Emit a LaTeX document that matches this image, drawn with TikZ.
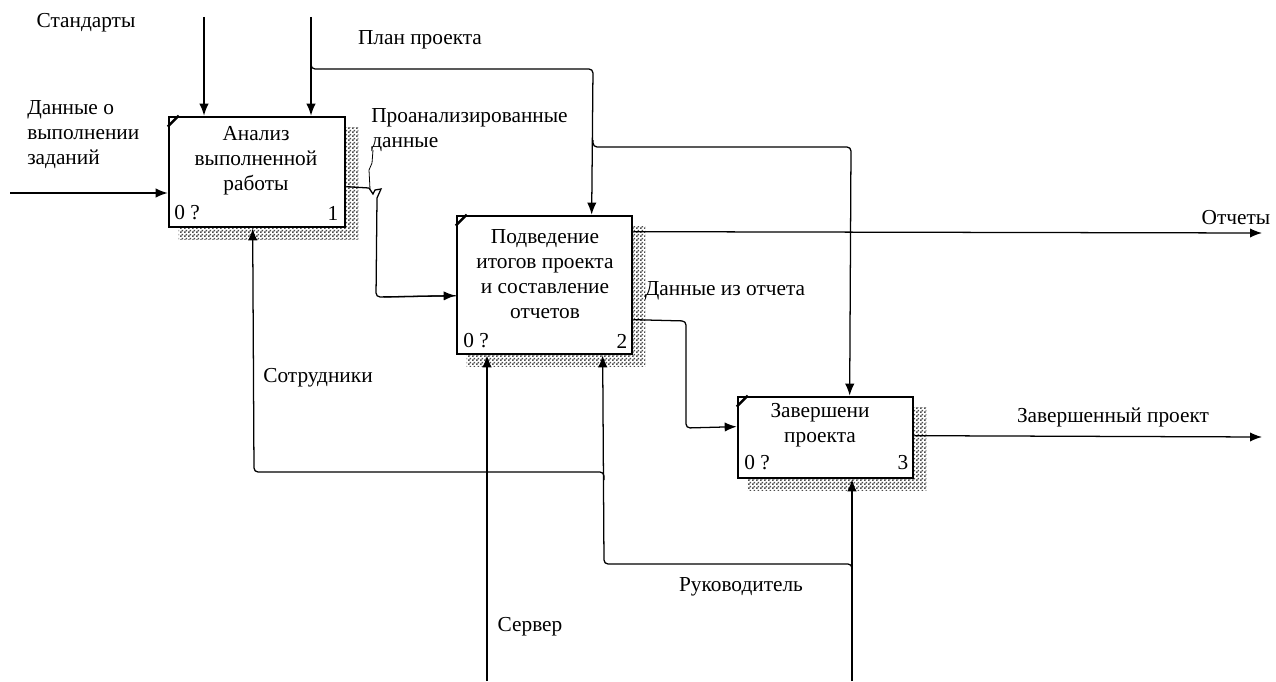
\documentclass[tikz,border=0pt]{standalone}
\usepackage{fontspec}
\setmainfont{Liberation Serif}
\usetikzlibrary{arrows.meta,calc,patterns,backgrounds}

% checkerboard used for the drop shadows of the function boxes
\pgfdeclarepatternformonly{finecheck}{\pgfpointorigin}{\pgfqpoint{3pt}{3pt}}{\pgfqpoint{3pt}{3pt}}{%
  \pgfpathrectangle{\pgfpointorigin}{\pgfqpoint{1.5pt}{1.5pt}}%
  \pgfpathrectangle{\pgfqpoint{1.5pt}{1.5pt}}{\pgfqpoint{1.5pt}{1.5pt}}%
  \pgfusepath{fill}}

\begin{document}
\begin{tikzpicture}[x=0.75pt,y=-0.75pt,
  font=\fontsize{16}{18.75}\selectfont,
  func/.style={draw,line width=2pt,fill=white,inner sep=0pt},
  arr/.style={line width=0.95pt,-{Latex[length=9pt,width=7pt]}},
  wire/.style={line width=0.95pt},
  rc/.style={rounded corners=3pt},
  lbl/.style={inner sep=0pt,align=center},
  lblL/.style={inner sep=0pt,align=left},
  shade/.style={pattern=finecheck,pattern color=black!70}]

\useasboundingbox (0,0) rectangle (1276,681);

% function boxes
\node[func,minimum width=132pt,minimum height=82.5pt]   (b1) at (257,172) {};
\node[func,minimum width=131.25pt,minimum height=103.5pt] (b2) at (544.5,285) {};
\node[func,minimum width=131.25pt,minimum height=60.75pt] (b3) at (825.5,437.5) {};

% drop shadows
\begin{scope}[on background layer]
  \foreach \b in {b1,b2,b3}
    \fill[shade] ($(\b.north west)+(11,12)$) rectangle ($(\b.south east)+(12,11)$);
\end{scope}

% corner ticks
\foreach \b in {b1,b2,b3}
  \draw[line width=1.8pt] ($(\b.north west)+(0,11)$) -- ($(\b.north west)+(11,0)$);

% box texts
\node[lbl] (t1) at (256,161) {Анализ\\выполненной\\работы};
\node[lbl] (t2) at (545,274) {Подведение\\итогов проекта\\и составление\\отчетов};
\node[lbl] (t3) at (820,425) {Завершени\\проекта};

\node[lbl] (n1a) at (187,213) {0 ?};
\node[lbl] (n1b) at (333,213) {1};
\node[lbl] (n2a) at (476,341) {0 ?};
\node[lbl] (n2b) at (622,341) {2};
\node[lbl] (n3a) at (757,463) {0 ?};
\node[lbl] (n3b) at (903,463) {3};

% free ends of boundary arrows
\coordinate (stdIn)  at (204,17);
\coordinate (planIn) at (311,17);
\coordinate (dIn)    at (10,193);
\coordinate (repOut) at (1262,233);
\coordinate (finOut) at (1262,437);
\coordinate (srvIn)  at (487,681);
\coordinate (rukIn)  at (852,681);

% controls
\draw[arr] (stdIn) -- (stdIn |- b1.north);
\draw[arr] (planIn) -- (planIn |- b1.north);
\draw[arr,rc] (311,62) -- (311,69) -- (593,69) -- ($(b2.north west)+(136,0)$);
\draw[arr,rc] (593,140) -- (593,147) -- (851,147) -- ($(b3.north west)+(113,0)$);

% input
\draw[arr] (dIn) -- (dIn -| b1.west);

% box 1 -> box 2
\draw[wire] ($(b1.north east)+(0,71)$) -- (369,188) -- (373,194) -- (375,190) -- (381,189) -- (377,198)
  [rounded corners=3pt] -- (376,297) -- ($(b2.north west)+(0,81)$);
\draw[arr] (384,297) -- ($(b2.north west)+(0,81)$);
\draw[line width=0.6pt] (373,150) -- (372,163) -- (369,170) -- (370,189);

% outputs
\draw[arr] ($(b2.north east)+(0,17)$) -- (repOut);
\draw[arr,rc] ($(b2.north east)+(0,105)$) -- (686,321) -- (686,428) -- ($(b3.north west)+(0,31)$);
\draw[arr] ($(b3.north east)+(0,40)$) -- (finOut);

% mechanisms
\draw[arr] (srvIn) -- (srvIn |- b2.south);
\draw[arr] (rukIn) -- (rukIn |- b3.south);
\draw[arr,rc] (852,575) -- (852,564) -- (604,564) -- ($(b2.south west)+(147,0)$);
\draw[arr,rc] (604,480) -- (604,472) -- (254,472) -- ($(b1.south west)+(85,0)$);

% arrow labels
\node[lbl]  (lStd)  at (86,23)    {Стандарты};
\node[lbl]  (lPlan) at (420,40)   {План проекта};
\node[lblL,anchor=west] (lIn) at (27,135) {Данные о\\выполнении\\заданий};
\node[lblL,anchor=west] (lAn) at (371,130) {Проанализированные\\данные};
\node[lbl]  (lRep)  at (1236,218) {Отчеты};
\node[lbl]  (lDat)  at (725,291)  {Данные из отчета};
\node[lbl]  (lFin)  at (1113,417) {Завершенный проект};
\node[lbl]  (lEmp)  at (318,378)  {Сотрудники};
\node[lbl]  (lRuk)  at (741,587)  {Руководитель};
\node[lbl]  (lSrv)  at (530,627)  {Сервер};
\end{tikzpicture}
\end{document}
